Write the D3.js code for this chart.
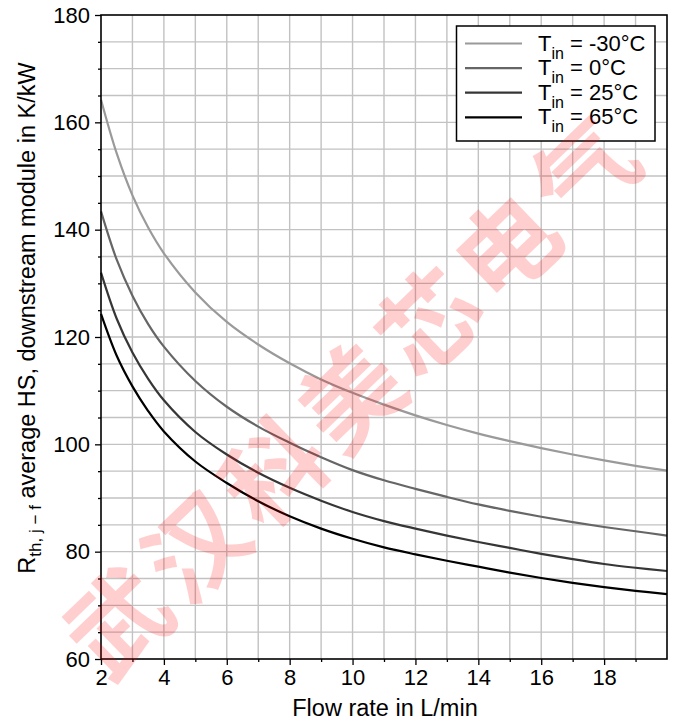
<!DOCTYPE html>
<html>
<head>
<meta charset="utf-8">
<script src="https://cdn.jsdelivr.net/npm/d3@7"></script>
<style>
	body { margin: 0; background: #fff; }
	svg { display: block; font-family: "Liberation Sans", Arial, sans-serif; }
	.tick text { font-size: 22px; fill: #000; }
	.domain { display: none; }
</style>
</head>
<body>
<div class="container"></div>
<script>
const width = 674, height = 725;
const margin = {left: 101, right: 7, top: 15, bottom: 66};

// flow rate in L/min
const flow = [2, 2.5, 3, 3.5, 4, 5, 6, 7, 8, 9, 10, 11, 12, 13, 14, 15, 16, 17, 18, 19, 20];
// R_th,j-f in K/kW, one array per inlet temperature
const rth_m30 = [164.2, 154.2, 146.4, 140.4, 135.6, 128.3, 122.8, 118.6, 115.1, 112.1, 109.6, 107.4, 105.4, 103.6, 102.0, 100.6, 99.3, 98.1, 97.0, 96.0, 95.1];
const rth_0   = [143.4, 134.4, 127.7, 122.4, 118.2, 111.8, 107.0, 103.3, 100.3, 97.6, 95.2, 93.3, 91.7, 90.2, 88.8, 87.6, 86.5, 85.5, 84.6, 83.8, 83.0];
const rth_25  = [132.0, 123.4, 117.1, 112.2, 108.2, 102.3, 98.1, 94.7, 91.9, 89.5, 87.4, 85.7, 84.3, 83.0, 81.8, 80.7, 79.6, 78.6, 77.7, 77.0, 76.4];
const rth_65  = [124.3, 116.5, 110.8, 106.2, 102.4, 96.8, 92.8, 89.4, 86.6, 84.3, 82.4, 80.8, 79.5, 78.3, 77.2, 76.1, 75.1, 74.2, 73.4, 72.7, 72.1];

const series_temps = ['-30°C', '0°C', '25°C', '65°C'];
const series_values = [rth_m30, rth_0, rth_25, rth_65];
const series_colors = ['#9a9a9a', '#666666', '#363636', '#000000'];

const x_ticks = [2, 4, 6, 8, 10, 12, 14, 16, 18];
const y_ticks = [60, 80, 100, 120, 140, 160, 180];

const watermark = '武汉科美芯电气';

const sx = d3.scaleLinear().domain([2, 20]).range([margin.left, width - margin.right]);
const sy = d3.scaleLinear().domain([60, 180]).range([height - margin.bottom, margin.top]);

let svg = d3.select('.container').append('svg')
	.attr('width', width)
	.attr('height', height)
	.attr('viewBox', [0, 0, width, height]);

const x0 = sx.range()[0], x1 = sx.range()[1];
const y0 = sy.range()[0], y1 = sy.range()[1];

// grid
let grid = svg.append('g').attr('stroke', '#c2c2c2').attr('stroke-width', 1.4);
grid.selectAll('line.v')
	.data(d3.range(3, 20, 1))
	.join('line')
	.attr('x1', d => sx(d)).attr('x2', d => sx(d))
	.attr('y1', y1).attr('y2', y0);
grid.selectAll('line.h')
	.data(d3.range(65, 180, 5))
	.join('line')
	.attr('x1', x0).attr('x2', x1)
	.attr('y1', d => sy(d)).attr('y2', d => sy(d));

// curves
const line = d3.line()
	.x(d => sx(d[0]))
	.y(d => sy(d[1]))
	.curve(d3.curveCatmullRom.alpha(0.5));

svg.append('g')
	.selectAll('path')
	.data(series_values)
	.join('path')
	.attr('fill', 'none')
	.attr('stroke', (d, i) => series_colors[i])
	.attr('stroke-width', 2.2)
	.attr('d', d => line(d.map((v, i) => [flow[i], v])));

// frame
svg.append('rect')
	.attr('x', x0).attr('y', y1)
	.attr('width', x1 - x0).attr('height', y0 - y1)
	.attr('fill', 'none')
	.attr('stroke', '#000')
	.attr('stroke-width', 1.6);

// axes
svg.append('g')
	.attr('transform', 'translate(0,' + y0 + ')')
	.call(d3.axisBottom(sx).tickValues(d3.range(3, 20, 2)).tickSize(3).tickFormat(''))
	.call(g => g.selectAll('line').attr('stroke-width', 1.3));
svg.append('g')
	.attr('transform', 'translate(0,' + y0 + ')')
	.call(d3.axisBottom(sx).tickValues(x_ticks).tickSize(6).tickPadding(4).tickFormat(d3.format('d')))
	.call(g => g.selectAll('line').attr('stroke-width', 1.3));

svg.append('g')
	.attr('transform', 'translate(' + x0 + ',0)')
	.call(d3.axisLeft(sy).tickValues(d3.range(65, 180, 5).filter(v => v % 20 != 0)).tickSize(3).tickFormat(''))
	.call(g => g.selectAll('line').attr('stroke-width', 1.3));
svg.append('g')
	.attr('transform', 'translate(' + x0 + ',0)')
	.call(d3.axisLeft(sy).tickValues(y_ticks).tickSize(6).tickPadding(5).tickFormat(d3.format('d')))
	.call(g => g.selectAll('line').attr('stroke-width', 1.3));

// axis titles
svg.append('text')
	.attr('x', (x0 + x1) / 2 + 1)
	.attr('y', 716)
	.attr('text-anchor', 'middle')
	.attr('font-size', 23.5)
	.text('Flow rate in L/min');

let yt = svg.append('text')
	.attr('transform', 'translate(35,318) rotate(-90)')
	.attr('text-anchor', 'middle')
	.attr('font-size', 23.5);
yt.append('tspan').text('R');
yt.append('tspan').attr('font-size', 17).attr('dy', 6).text('th, j − f');
yt.append('tspan').attr('dy', -6).text(' average HS, downstream module in K/kW');

// legend
let lg = svg.append('g');
lg.append('rect')
	.attr('x', 456.5).attr('y', 26)
	.attr('width', 198.5).attr('height', 115)
	.attr('fill', '#fff')
	.attr('stroke', '#000')
	.attr('stroke-width', 1.5);
series_temps.forEach((t, i) => {
	const ly = 43.5 + i * 24.6;
	lg.append('line')
		.attr('x1', 465).attr('x2', 522)
		.attr('y1', ly).attr('y2', ly)
		.attr('stroke', series_colors[i])
		.attr('stroke-width', 2.2);
	let tx = lg.append('text')
		.attr('x', 538).attr('y', ly + 7)
		.attr('font-size', 22);
	tx.append('tspan').text('T');
	tx.append('tspan').attr('font-size', 16).attr('dy', 8).text('in');
	tx.append('tspan').attr('dy', -8).text(' = ' + t);
});

// watermark
svg.append('text')
	.attr('transform', 'translate(350,390) rotate(-44)')
	.attr('text-anchor', 'middle')
	.attr('dominant-baseline', 'central')
	.attr('font-family', '"Noto Sans CJK SC", sans-serif')
	.attr('font-weight', 'bold')
	.attr('font-size', 100)
	.attr('letter-spacing', 8)
	.attr('fill', '#ff0000')
	.attr('fill-opacity', 0.19)
	.text(watermark);
</script>
</body>
</html>
